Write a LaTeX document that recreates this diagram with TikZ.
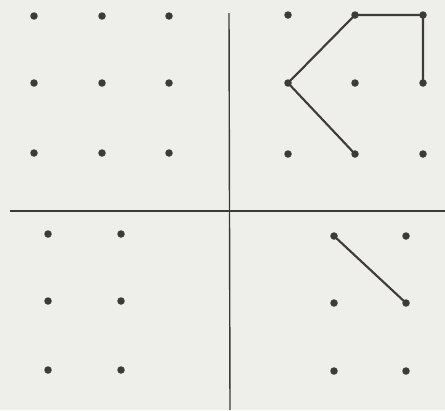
\documentclass[tikz,border=0pt]{standalone}
\usepackage{tikz}
\definecolor{paper}{RGB}{238,238,235}
\definecolor{ink}{RGB}{62,58,58}
\tikzset{
  dot/.style={circle, fill=ink, draw=none, inner sep=0pt, minimum size=0.15cm},
  link/.style={draw=ink, line width=1.2pt},
  axis/.style={draw=ink, line width=0.8pt}
}
\begin{document}
\begin{tikzpicture}[x=0.02cm, y=-0.02cm]
    % Page background (445 x 410 units)
    \fill[paper] (0,0) rectangle (445,410);
    \useasboundingbox (0,0) rectangle (445,410);
    % Quadrant dividers
    \coordinate (vtop) at (229,13);
    \coordinate (vbot) at (230,410);
    \coordinate (hleft) at (10,211);
    \coordinate (hright) at (445,211);
    \draw[axis] (vtop) -- (vbot);
    \draw[axis] (hleft) -- (hright);
    % Top left: 3 x 3 grid
    \foreach \x [count=\i] in {34,102,169} {
      \foreach \y [count=\j] in {16,83,153} {
        \node[dot] (tl-\i-\j) at (\x,\y) {};
      }
    }
    % Top right: 3 x 3 grid
    \foreach \x [count=\i] in {288,355,423} {
      \foreach \y [count=\j] in {15,83,154} {
        \node[dot] (tr-\i-\j) at (\x,\y) {};
      }
    }
    % Bottom left: 2 x 3 grid
    \foreach \x [count=\i] in {48,121} {
      \foreach \y [count=\j] in {234,301,370} {
        \node[dot] (bl-\i-\j) at (\x,\y) {};
      }
    }
    % Bottom right: 2 x 3 grid
    \foreach \x [count=\i] in {334,406} {
      \foreach \y [count=\j] in {236,303,371} {
        \node[dot] (br-\i-\j) at (\x,\y) {};
      }
    }
    % Drawn paths
    \draw[link] (tr-3-2.center) -- (tr-3-1.center) -- (tr-2-1.center)
      -- (tr-1-2.center) -- (tr-2-3.center);
    \draw[link] (br-1-1.center) -- (br-2-2.center);
  \end{tikzpicture}
\end{document}
